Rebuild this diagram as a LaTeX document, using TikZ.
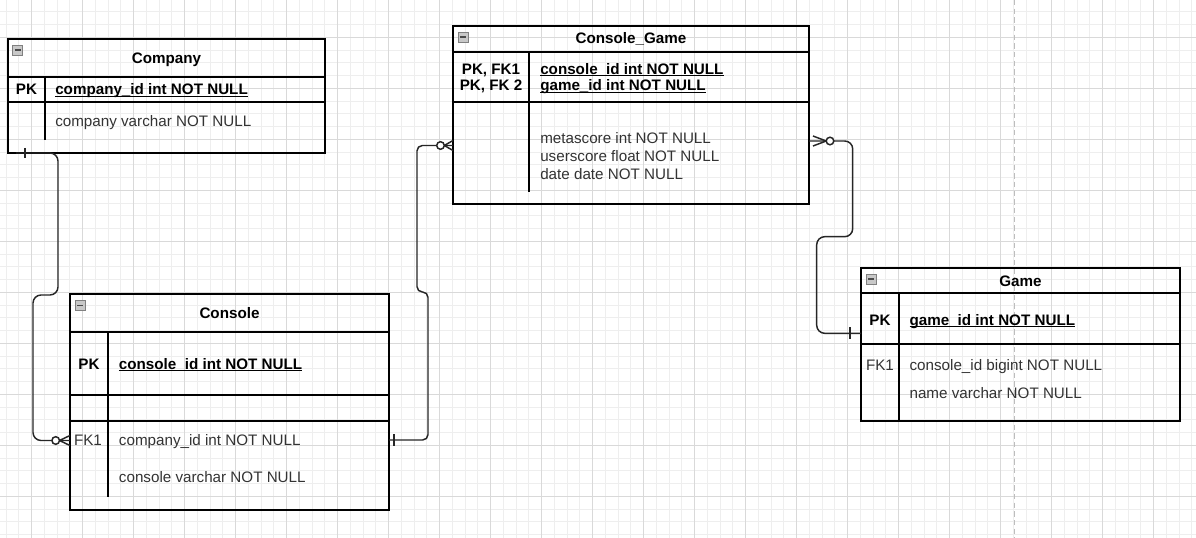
\documentclass[tikz,border=0pt]{standalone}
\usepackage{fontspec}
\setmainfont{Liberation Sans}
\usetikzlibrary{calc}
\definecolor{gridminor}{HTML}{EEEEEE}
\definecolor{gridmajor}{HTML}{D9D9D9}
\definecolor{txtgray}{HTML}{333333}
\definecolor{dashgray}{HTML}{BDBDBD}
\definecolor{iconfill}{HTML}{C8C8C8}
\definecolor{iconline}{HTML}{808080}
\definecolor{iconbar}{HTML}{4A4A4A}
\newcommand\ulbold[1]{\setbox0\hbox{#1}\rlap{\rule[-1.5pt]{\wd0}{0.9pt}}\box0}
\newcommand\minusicon[2]{%
  \draw[iconline, fill=iconfill, line width=0.6pt] (#1,#2) rectangle ++(10,10);
  \fill[iconbar] (#1+2,#2+4.2) rectangle ++(6,1.8);}
\tikzset{
  tbl/.style 2 args={draw=black, line width=1pt, inner sep=0pt, outer sep=0pt, anchor=north west,
    minimum width=#1*0.75pt, minimum height=#2*0.75pt},
  sep/.style={draw=black, line width=1pt},
  conn/.style={draw=black!85, line width=1.1pt, rounded corners=6pt},
  mk/.style={draw=black!85, line width=1.1pt},
  base/.style={inner sep=0pt, text height=0.716em, text depth=0pt, font=\fontsize{11.4}{13.5}\selectfont},
  title/.style={base, anchor=center, font=\fontsize{11.4}{13.5}\selectfont\bfseries},
  key/.style={base, anchor=center, font=\fontsize{11.4}{13.5}\selectfont\bfseries},
  fkey/.style={base, anchor=center, text=txtgray},
  pkattr/.style={base, anchor=west, font=\fontsize{11.4}{13.5}\selectfont\bfseries},
  attr/.style={base, anchor=west, text=txtgray},
}
\begin{document}
\begin{tikzpicture}[x=0.75pt,y=-0.75pt]
\useasboundingbox (0,0) rectangle (1196,538);
\fill[white] (0,0) rectangle (1196,538);
% grid
\foreach \i in {0,...,93} \draw[gridminor, line width=0.75pt] ({6.2+12.75*\i},0) -- ({6.2+12.75*\i},538);
\foreach \i in {0,...,41} \draw[gridminor, line width=0.75pt] (0,{11.8+12.75*\i}) -- (1196,{11.8+12.75*\i});
\foreach \i in {0,...,23} \draw[gridmajor, line width=0.75pt] ({31.7+51*\i},0) -- ({31.7+51*\i},538);
\foreach \i in {0,...,9} \draw[gridmajor, line width=0.75pt] (0,{37.3+51*\i}) -- (1196,{37.3+51*\i});
\draw[dashgray, line width=1.1pt, dash pattern=on 4pt off 2.5pt] (1014.3,0) -- (1014.3,538);

% tables
\node[tbl={317}{114}] (company) at (8,39) {};
\node[tbl={319}{216}] (console) at (70,294) {};
\node[tbl={356}{178}] (cg) at (453,26) {};
\node[tbl={319}{153}] (game) at (861,268) {};

% Company
\draw[sep] (8,77) -- (325,77);
\draw[sep] (8,102) -- (325,102);
\draw[sep] (45,77) -- (45,140);
\minusicon{12.5}{45}
\node[title] (t-company) at (166.5,59) {Company};
\node[key] (k-company) at (26.5,90) {PK};
\node[pkattr] (a-company-id) at (55,90) {\ulbold{company\_id int NOT NULL}};
\node[attr] (a-company) at (55,121.3) {company varchar NOT NULL};

% Console
\draw[sep] (70,332) -- (389,332);
\draw[sep] (70,395) -- (389,395);
\draw[sep] (70,421) -- (389,421);
\draw[sep] (108,332) -- (108,497);
\minusicon{75}{300.5}
\node[title] (t-console) at (229.5,313.8) {Console};
\node[key] (k-console) at (89,364.5) {PK};
\node[pkattr] (a-console-id) at (118.7,364.5) {\ulbold{console\_id int NOT NULL}};
\node[fkey] (fk-console) at (88,440.3) {FK1};
\node[attr] (a-console-company) at (118.7,440.3) {company\_id int NOT NULL};
\node[attr] (a-console-name) at (118.7,478.2) {console varchar NOT NULL};

% Console_Game
\draw[sep] (453,52) -- (809,52);
\draw[sep] (453,102) -- (809,102);
\draw[sep] (529,52) -- (529,192);
\minusicon{458}{32}
\node[title] (t-cg) at (631,38.8) {Console\_Game};
\node[key] (k-cg1) at (491,69.3) {PK, FK1};
\node[key] (k-cg2) at (491,86) {PK, FK 2};
\node[pkattr] (a-cg1) at (540,69.3) {\ulbold{console\_id int NOT NULL}};
\node[pkattr] (a-cg2) at (540,86) {\ulbold{game\_id int NOT NULL}};
\node[attr] (a-cg3) at (540,138.7) {metascore int NOT NULL};
\node[attr] (a-cg4) at (540,156.3) {userscore float NOT NULL};
\node[attr] (a-cg5) at (540,174.3) {date date NOT NULL};

% Game
\draw[sep] (861,293) -- (1180,293);
\draw[sep] (861,344) -- (1180,344);
\draw[sep] (899,293) -- (899,421);
\minusicon{866}{274}
\node[title] (t-game) at (1020.5,282) {Game};
\node[key] (k-game) at (880,320.3) {PK};
\node[pkattr] (a-game-id) at (909.3,320.3) {\ulbold{game\_id int NOT NULL}};
\node[fkey] (fk-game) at (880,365.3) {FK1};
\node[attr] (a-game-console) at (909.3,365.3) {console\_id bigint NOT NULL};
\node[attr] (a-game-name) at (909.3,394) {name varchar NOT NULL};

% connector Company -> Console
\draw[conn] ($(company.south west)+(8,0)$) -- (58,153) -- (58,295) -- (33,295) -- (33,440.5) -- ($(console.south west)+(0,-69.5)$);
\draw[mk] (25,148) -- (25,158);
\draw[mk, fill=white] (55.7,440.5) circle[radius=2.85pt];
\draw[mk] (59.5,440.5) -- (70,435.5);
\draw[mk] (59.5,440.5) -- (70,445.5);

% connector Console -> Console_Game
\draw[conn, rounded corners=4pt] ($(console.south east)+(0,-70)$) -- (428,440) -- (428,292) -- (417,292) -- (417,145.5) -- ($(cg.south west)+(0,-58.5)$);
\draw[mk] (394,434) -- (394,446);
\draw[mk, fill=white] (440.5,145.5) circle[radius=2.85pt];
\draw[mk] (444.3,145.5) -- (453,140.5);
\draw[mk] (444.3,145.5) -- (453,150.5);

% connector Console_Game -> Game
\draw[conn] ($(cg.south east)+(0,-63)$) -- (852.7,141) -- (852.7,236.7) -- (816.7,236.7) -- (816.7,333.3) -- ($(game.south west)+(0,-87.7)$);
\draw[mk, fill=white] (830,141) circle[radius=2.85pt];
\draw[mk] (826.2,141) -- (813,136);
\draw[mk] (826.2,141) -- (813,146);
\draw[mk] (850,327.3) -- (850,339.3);
\end{tikzpicture}
\end{document}
